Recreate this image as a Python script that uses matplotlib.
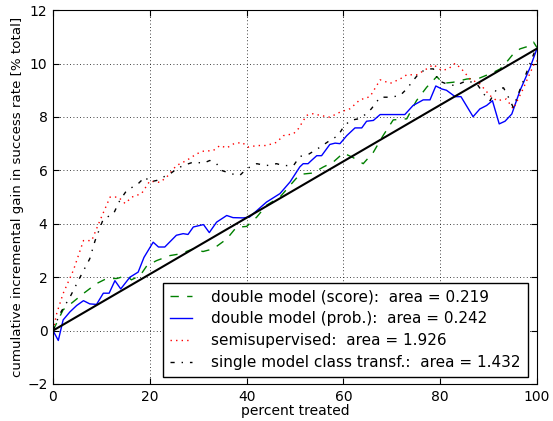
import matplotlib
matplotlib.use("Agg")
import matplotlib.pyplot as plt

# ---- data ----
blue_x = [0, 1.1, 2.1, 3.5, 4.9, 6.3, 7.6, 9, 10.4, 11.6, 12.8, 14, 15.9, 17.6, 18.8, 20.7, 21.8, 23.1,
          25.5, 26.9, 27.9, 29, 31.1, 32.3, 33.8, 35.9, 37.2, 39.3, 40.6, 42.1, 44.1, 46.9, 49, 51, 51.7,
          52.7, 53.4, 54.5, 55.5, 57.2, 58.3, 59.3, 60.7, 62.4, 63.8, 64.8, 66.2, 67.6, 70.3, 72.7, 74.4,
          76.5, 77.9, 79.1, 80.3, 81.3, 83.1, 84.3, 86.8, 88.2, 89.6, 90.8, 92.2, 93.4, 94.8, 96.5, 98.6, 100]
blue_y = [0, -0.37, 0.4, 0.7, 0.94, 1.12, 1.0, 0.98, 1.4, 1.4, 1.87, 1.56, 2.0, 2.19, 2.74, 3.31, 3.13, 3.13,
          3.57, 3.63, 3.6, 3.88, 3.97, 3.67, 4.06, 4.31, 4.23, 4.22, 4.25, 4.49, 4.81, 5.13, 5.57, 6.13, 6.25,
          6.25, 6.37, 6.55, 6.55, 6.97, 7.02, 7.0, 7.3, 7.59, 7.59, 7.84, 7.87, 8.09, 8.09, 8.09, 8.43,
          8.64, 8.64, 9.16, 9.05, 9.0, 8.76, 8.76, 8.01, 8.3, 8.43, 8.61, 7.74, 7.84, 8.11, 8.99, 9.86, 10.56]

green_x = [0, 2.1, 4.2, 6.3, 9, 11.1, 13.2, 15.2, 16.2, 18, 19.4, 21.4, 24.2, 26.2, 29, 31, 33.1, 35.9,
           37.9, 40, 42.1, 44.1, 46.9, 49, 51, 53.7, 55.8, 57.9, 60, 62, 64.1, 66.2, 68.2, 70.3, 73.1,
           75.1, 77.2, 79.3, 80.6, 82.7, 85.5, 88.2, 91, 92.4, 93.7, 95.1, 96.5, 98.6, 99.3, 100]
green_y = [0, 0.78, 1.08, 1.39, 1.76, 1.95, 1.95, 2.06, 1.9, 2.06, 2.43, 2.62, 2.81, 2.87, 3.06, 2.96, 3.06, 3.43,
           3.87, 3.9, 4.25, 4.69, 5.0, 5.44, 5.85, 5.9, 6.12, 6.31, 6.65, 6.48, 6.25, 6.68, 7.3, 7.89, 7.93,
           8.61, 9.11, 9.51, 9.26, 9.3, 9.42, 9.46, 9.67, 9.8, 10.05, 10.36, 10.55, 10.67, 10.8, 10.6]

red_x = [0, 0.8, 2.1, 4.2, 6.3, 8, 9.7, 11.8, 13.5, 14.9, 16.3, 18.3, 20, 22.1, 23.5, 25.5, 27.6, 29.7,
         31.1, 33.1, 34.5, 35.9, 37.3, 39, 40.4, 42.1, 44.1, 46.2, 47.6, 49.7, 50.7, 52.4, 53.7, 55.2,
         57.2, 59.3, 61.4, 63.4, 65.5, 67.6, 69.7, 71.7, 73.1, 75.2, 77.2, 78.6, 80.3, 81.7, 83.1, 84.4,
         86.2, 88.2, 90.3, 91.7, 93.7, 95.1, 97, 99.6, 100]
red_y = [0, 0.66, 1.39, 2.25, 3.37, 3.37, 4.12, 5.0, 5.0, 4.76, 5.0, 5.13, 5.6, 5.55, 5.75, 6.18, 6.37, 6.62,
         6.72, 6.74, 6.93, 6.84, 6.99, 7.05, 6.87, 6.93, 6.93, 7.05, 7.3, 7.37, 7.56, 8.06, 8.12, 8.06,
         7.99, 8.18, 8.31, 8.64, 8.76, 9.39, 9.26, 9.42, 9.58, 9.58, 9.8, 9.96, 9.74, 9.8, 10.01, 9.8,
         9.42, 9.24, 8.8, 8.61, 8.67, 8.3, 9.0, 10.06, 10.1]

black_x = [0, 1.4, 3.5, 5.6, 7.6, 8.7, 10.4, 12.5, 13.8, 15.2, 17.6, 19, 20, 21.4, 22.8, 24.2, 25.6, 26.9,
           29, 31.1, 32.4, 33.8, 34.8, 36.9, 38.6, 40, 42.1, 44.1, 46.2, 47.6, 49.7, 51, 52.7, 55.2, 57.2,
           58.9, 60, 61.4, 63.1, 64.8, 65.8, 67.6, 69.7, 71.7, 73.1, 74.4, 75.8, 77.5, 78.6, 79.6, 81.3,
           83.1, 85.5, 87.6, 89, 90.3, 91.7, 93.1, 94.1, 95.1, 97.2, 99.6, 100]
black_y = [0, 0.62, 1.25, 2.0, 2.69, 3.37, 4.18, 4.37, 4.87, 5.24, 5.5, 5.75, 5.57, 5.62, 5.75, 5.87, 6.06, 6.18,
           6.31, 6.27, 6.37, 6.25, 6.0, 5.87, 5.81, 6.06, 6.25, 6.18, 6.25, 6.18, 6.18, 6.52, 6.59, 6.87, 7.12,
           7.3, 7.62, 7.87, 7.93, 8.12, 8.31, 8.74, 8.74, 8.8, 9.05, 9.36, 9.67, 9.8, 9.8, 9.36, 9.24,
           9.17, 9.36, 9.24, 8.86, 8.61, 9.05, 9.09, 8.74, 8.36, 9.36, 10.49, 10.56]

random_x = [0, 100]
random_y = [0, 10.56]

labels = ["double model (score):  area = 0.219",
          "double model (prob.):  area = 0.242",
          "semisupervised:  area = 1.926",
          "single model class transf.:  area = 1.432"]

xticks = [0, 20, 40, 60, 80, 100]
yticks = [-2, 0, 2, 4, 6, 8, 10, 12]

# ---- plot ----
fig = plt.figure(figsize=(5.53, 4.21), dpi=100)
ax = fig.add_axes([0.0958, 0.0879, 0.8752, 0.888])

ax.plot(green_x, green_y, color="green", lw=1, dashes=(6, 6), label=labels[0])
ax.plot(blue_x, blue_y, color="blue", lw=1, label=labels[1])
ax.plot(red_x, red_y, color="red", lw=1, dashes=(1, 3), label=labels[2])
ax.plot(black_x, black_y, color="black", lw=1, dashes=(3, 5, 1, 5), label=labels[3])
ax.plot(random_x, random_y, color="black", lw=1.5)

ax.set_xlim(0, 100)
ax.set_ylim(-2, 12)
ax.set_xticks(xticks)
ax.set_yticks(yticks)
ax.tick_params(direction="in", top=True, right=True, labelsize=10, length=4, pad=4)
ax.grid(True, color="black", linestyle=(0, (1, 3)), lw=0.6)
ax.set_xlabel("percent treated", fontsize=10, labelpad=0)
ax.set_ylabel("cumulative incremental gain in success rate [% total]", fontsize=9.6, labelpad=2)

leg = ax.legend(loc="lower right", bbox_to_anchor=(0.981, 0.019), borderaxespad=0,
                fontsize=11, fancybox=False, framealpha=1, edgecolor="black",
                handlelength=1.45, handletextpad=1.25, labelspacing=0.45, borderpad=0.45)
leg.get_frame().set_linewidth(1)

fig.savefig("out.png", dpi=100)
